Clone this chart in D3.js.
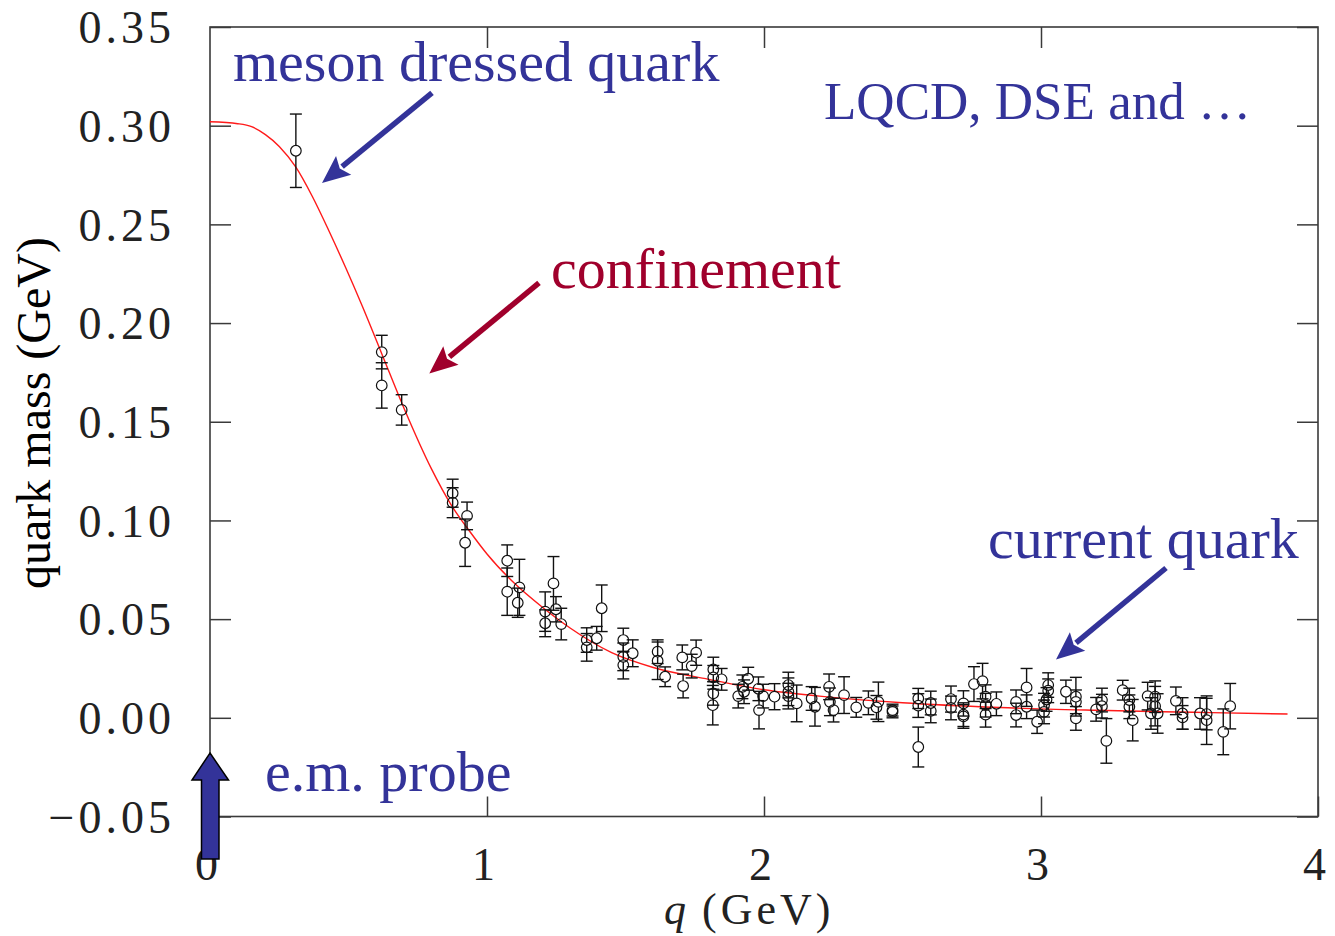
<!DOCTYPE html>
<html><head><meta charset="utf-8">
<script src="https://cdn.jsdelivr.net/npm/d3@7"></script>
<style>body{margin:0;background:#fff} svg{display:block}</style>
</head><body>
<svg id="chart" width="1335" height="936"></svg>
<script>
// ---- Data ----
const curveQ = [0, 0.1, 0.15, 0.2, 0.25, 0.31, 0.37, 0.43, 0.49, 0.55, 0.62, 0.7, 0.8, 0.87, 0.94, 1.0, 1.1, 1.2, 1.3, 1.45, 1.6, 1.8, 2.0, 2.2, 2.5, 2.85, 3.2, 3.55, 3.89];
const curveM = [0.302, 0.301, 0.2995, 0.2955, 0.2895, 0.279, 0.264, 0.2465, 0.228, 0.2085, 0.1845, 0.157, 0.126, 0.108, 0.094, 0.083, 0.068, 0.056, 0.0455, 0.0330, 0.0255, 0.0195, 0.0142, 0.011, 0.0076, 0.0052, 0.0038, 0.0028, 0.0019];

const dataQ = [0.31,0.62,0.62,0.692,0.876,0.876,0.928,0.921,1.073,1.073,1.117,1.111,1.240,1.210,1.210,1.249,1.268,1.414,1.360,1.360,1.396,1.492,1.492,1.492,1.526,1.616,1.616,1.643,1.705,1.708,1.739,1.755,1.817,1.817,1.817,1.815,1.847,1.907,1.922,1.928,1.943,1.980,1.982,1.997,2.038,2.088,2.088,2.088,2.118,2.172,2.184,2.235,2.238,2.251,2.289,2.333,2.377,2.406,2.413,2.464,2.464,2.557,2.557,2.557,2.602,2.602,2.675,2.675,2.720,2.720,2.720,2.758,2.789,2.800,2.800,2.800,2.839,2.910,2.910,2.948,2.948,2.986,3.011,3.011,3.020,3.026,3.026,3.090,3.126,3.126,3.126,3.199,3.220,3.220,3.236,3.295,3.319,3.319,3.331,3.385,3.397,3.412,3.412,3.421,3.487,3.511,3.511,3.574,3.598,3.598,3.658,3.683];
const dataM = [0.2873,0.1853,0.1684,0.156,0.1138,0.109,0.1023,0.0887,0.0796,0.0639,0.0661,0.0583,0.0681,0.0538,0.0479,0.0550,0.0475,0.0555,0.0394,0.0357,0.0403,0.0394,0.0309,0.0267,0.0327,0.0335,0.0289,0.0208,0.0306,0.0161,0.0262,0.0330,0.0245,0.0205,0.0124,0.0064,0.0195,0.0110,0.0157,0.0132,0.0198,0.0147,0.0039,0.0110,0.0107,0.0166,0.0132,0.0110,0.0073,0.0098,0.0056,0.0157,0.0081,0.0039,0.0115,0.0053,0.0076,0.0053,0.0081,0.0039,0.0030,0.0098,0.0062,-0.0148,0.0075,0.0035,0.0095,0.0050,0.0073,0.0016,0.0007,0.0171,0.0186,0.0107,0.0064,0.0016,0.0071,0.0081,0.0014,0.0154,0.0056,-0.0020,0.0030,0.0064,0.0093,0.0166,0.0137,0.0132,0.0107,0.0081,-0.0003,0.0043,0.0090,0.0059,-0.0117,0.0140,0.0090,0.0056,-0.0012,0.0110,0.0022,0.0107,0.0059,0.0022,0.0086,0.0022,0.0002,0.0022,0.0019,-0.0012,-0.0071,0.0059];
const dataErr = [0.0186,0.0085,0.0115,0.0077,0.0071,0.0076,0.0070,0.0120,0.0080,0.0120,0.0142,0.0074,0.0136,0.0100,0.0068,0.0064,0.0080,0.0118,0.0062,0.0070,0.0060,0.0060,0.0070,0.0070,0.0068,0.0060,0.0095,0.0050,0.0063,0.0060,0.0060,0.0064,0.0062,0.0060,0.0060,0.0100,0.0055,0.0060,0.0060,0.0060,0.0058,0.0060,0.0095,0.0060,0.0066,0.0065,0.0070,0.0065,0.0093,0.0060,0.0098,0.0065,0.0070,0.0060,0.0093,0.0050,0.0060,0.0060,0.0100,0.0030,0.0030,0.0051,0.0060,0.0101,0.0060,0.0060,0.0066,0.0060,0.0064,0.0060,0.0060,0.0088,0.0090,0.0060,0.0060,0.0063,0.0060,0.0060,0.0060,0.0096,0.0060,0.0059,0.0060,0.0060,0.0060,0.0062,0.0060,0.0059,0.0098,0.0060,0.0060,0.0060,0.0060,0.0060,0.0113,0.0050,0.0060,0.0060,0.0105,0.0070,0.0080,0.0080,0.0100,0.0100,0.0070,0.0080,0.0060,0.0080,0.0080,0.0123,0.0116,0.0115];

const xTicks = [0, 1, 2, 3, 4];
const xInnerTicks = [1, 2, 3];
const yTicks = [-0.05, 0, 0.05, 0.10, 0.15, 0.20, 0.25, 0.30, 0.35];
const xLabel = "(GeV)";
const xLabelVar = "q";
const yLabel = "quark mass (GeV)";

// ---- Layout / styles ----
const x = d3.scaleLinear().domain([0, 4]).range([210, 1318]);
const y = d3.scaleLinear().domain([-0.05, 0.35]).range([816.5, 27]);
const svg = d3.select('#chart');
const axisColor = '#3a3a3a';
const cmFont = '"Liberation Serif", "Times New Roman", serif';
const blue = '#333399';
const darkRed = '#a0002c';

// frame
svg.append('rect')
  .attr('x', x(0)).attr('y', y(0.35))
  .attr('width', x(4) - x(0)).attr('height', y(-0.05) - y(0.35))
  .attr('fill', 'none').attr('stroke', axisColor).attr('stroke-width', 1.6);

function styleAxis(g) {
  g.select('.domain').remove();
  g.selectAll('.tick line').attr('stroke', axisColor).attr('stroke-width', 1.5);
  g.selectAll('.tick text').attr('font-family', cmFont).attr('font-size', 46).attr('fill', '#222');
}

const gL = svg.append('g').attr('transform', `translate(${x(0)},0)`)
  .call(d3.axisLeft(y).tickValues(yTicks).tickSizeInner(-21).tickSizeOuter(0).tickPadding(35).tickFormat(d3.format('.2f')));
styleAxis(gL);
gL.selectAll('.tick text').attr('letter-spacing', 4).attr('dy', '0.34em');

const gR = svg.append('g').attr('transform', `translate(${x(4)},0)`)
  .call(d3.axisRight(y).tickValues(yTicks).tickSizeInner(-21).tickSizeOuter(0).tickFormat(() => ''));
styleAxis(gR);

const gT = svg.append('g').attr('transform', `translate(0,${y(0.35)})`)
  .call(d3.axisTop(x).tickValues(xInnerTicks).tickSizeInner(-21).tickSizeOuter(0).tickFormat(() => ''));
styleAxis(gT);

const gB = svg.append('g').attr('transform', `translate(0,${y(-0.05)})`)
  .call(d3.axisBottom(x).tickValues(xTicks).tickSizeInner(-20).tickSizeOuter(0).tickFormat(d3.format('d')));
styleAxis(gB);
gB.selectAll('.tick text').attr('y', 63.5).attr('dy', 0).attr('dx', -4);

// axis titles
svg.append('text')
  .attr('transform', 'translate(50,413) rotate(-90)')
  .attr('text-anchor', 'middle')
  .attr('font-family', cmFont).attr('font-size', 48).attr('fill', '#000')
  .text(yLabel);

const xt = svg.append('text').attr('y', 924).attr('font-family', cmFont).attr('font-size', 44).attr('fill', '#222');
xt.append('tspan').attr('x', 664).attr('font-style', 'italic').text(xLabelVar);
xt.append('tspan').attr('x', 702).attr('letter-spacing', 4).text(xLabel);

// curve
const curvePts = curveQ.map((q, i) => [q, curveM[i]]);
svg.append('path')
  .datum(curvePts)
  .attr('d', d3.line().x(d => x(d[0])).y(d => y(d[1])).curve(d3.curveMonotoneX))
  .attr('fill', 'none').attr('stroke', '#ff1a1a').attr('stroke-width', 1.4);

// data points with error bars
const pts = dataQ.map((q, i) => ({ q, m: dataM[i], e: dataErr[i] }));
const r = 5.3, cap = 6;
const gP = svg.append('g').attr('stroke', '#111').attr('fill', 'none');
const pg = gP.selectAll('g.pt').data(pts).join('g').attr('class', 'pt');
pg.each(function(d) {
  const g = d3.select(this);
  const cx = x(d.q), cy = y(d.m), yt = y(d.m + d.e), yb = y(d.m - d.e);
  if (cy - r > yt) g.append('line').attr('x1', cx).attr('x2', cx).attr('y1', yt).attr('y2', cy - r).attr('stroke-width', 1.4);
  if (cy + r < yb) g.append('line').attr('x1', cx).attr('x2', cx).attr('y1', cy + r).attr('y2', yb).attr('stroke-width', 1.4);
  g.append('line').attr('x1', cx - cap).attr('x2', cx + cap).attr('y1', yt).attr('y2', yt).attr('stroke-width', 1.4);
  g.append('line').attr('x1', cx - cap).attr('x2', cx + cap).attr('y1', yb).attr('y2', yb).attr('stroke-width', 1.4);
  g.append('circle').attr('cx', cx).attr('cy', cy).attr('r', r).attr('stroke-width', 1.2);
});

// annotations
const annText = [
  { t: 'meson dressed quark', x: 233, y: 81, size: 58, c: blue },
  { t: 'LQCD, DSE and \u2026', x: 824, y: 119, size: 53, c: blue },
  { t: 'confinement', x: 551, y: 288, size: 58, c: darkRed },
  { t: 'current quark', x: 988, y: 558, size: 58, c: blue },
  { t: 'e.m. probe', x: 265, y: 791, size: 58, c: blue }
];
svg.selectAll('text.ann').data(annText).join('text').attr('class', 'ann')
  .attr('x', d => d.x).attr('y', d => d.y)
  .attr('font-family', cmFont).attr('font-size', d => d.size).attr('fill', d => d.c)
  .text(d => d.t);

// arrows (start and tip in data coords)
const arrows = [
  { from: [0.8014, 0.3166], to: [0.4043, 0.2709], c: blue },
  { from: [1.1877, 0.2203], to: [0.7917, 0.1745], c: darkRed },
  { from: [3.4513, 0.0759], to: [3.0542, 0.0296], c: blue }
];
arrows.forEach(a => {
  const x1 = x(a.from[0]), y1 = y(a.from[1]), x2 = x(a.to[0]), y2 = y(a.to[1]);
  const dx = x2 - x1, dy = y2 - y1, L = Math.hypot(dx, dy);
  const ux = dx / L, uy = dy / L, px = -uy, py = ux;
  const hl = 28, hw = 12;
  const bx = x2 - ux * hl, by = y2 - uy * hl;
  svg.append('line').attr('x1', x1).attr('y1', y1).attr('x2', bx + ux * 2).attr('y2', by + uy * 2)
    .attr('stroke', a.c).attr('stroke-width', 5.5);
  svg.append('path')
    .attr('d', `M${x2},${y2}L${bx + px * hw},${by + py * hw}L${bx + ux * 5},${by + uy * 5}L${bx - px * hw},${by - py * hw}Z`)
    .attr('fill', a.c);
});

// e.m. probe block arrow (at q = 0)
const ax = x(0);
svg.append('path')
  .attr('d', `M${ax},753 L${ax + 18.5},780 L${ax + 9},780 L${ax + 9},859 L${ax - 8.5},859 L${ax - 8.5},780 L${ax - 18},780 Z`)
  .attr('fill', blue).attr('stroke', '#000').attr('stroke-width', 1.5).attr('stroke-linejoin', 'miter');
</script>
</body></html>
